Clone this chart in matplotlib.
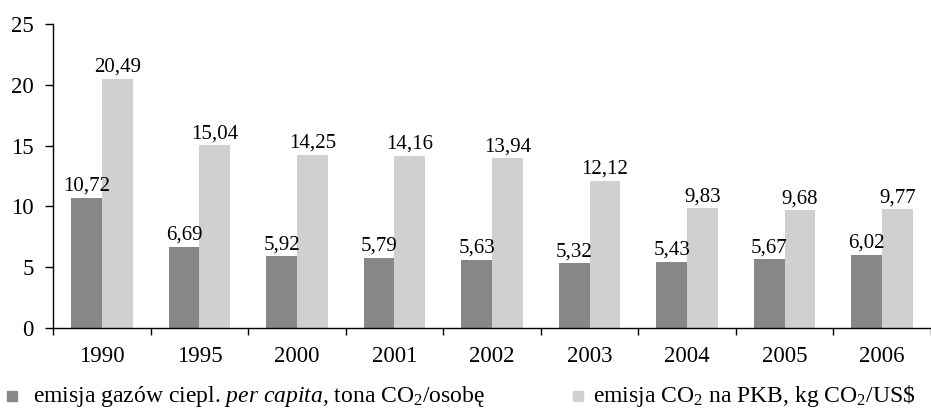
import numpy as np
import matplotlib.pyplot as plt
from matplotlib.lines import Line2D

plt.rcParams['font.family'] = ['Liberation Serif', 'DejaVu Serif']
plt.rcParams['mathtext.fontset'] = 'custom'
plt.rcParams['mathtext.rm'] = 'Liberation Serif'
plt.rcParams['mathtext.it'] = 'Liberation Serif:italic'

# data
years = ['1990', '1995', '2000', '2001', '2002', '2003', '2004', '2005', '2006']
per_capita = [10.72, 6.69, 5.92, 5.79, 5.63, 5.32, 5.43, 5.67, 6.02]
per_gdp = [20.49, 15.04, 14.25, 14.16, 13.94, 12.12, 9.83, 9.68, 9.77]

dark = '#878787'
light = '#d0d0d0'

fig = plt.figure(figsize=(9.31, 4.12), dpi=100)
ax = fig.add_axes([0.057, 1 - 328 / 412, 0.943, 304 / 412])

x = np.arange(len(years))
w = 0.315
b1 = ax.bar(x - w / 2, per_capita, w, color=dark)
b2 = ax.bar(x + w / 2, per_gdp, w, color=light)

for bars, vals in ((b1, per_capita), (b2, per_gdp)):
    for r, v in zip(bars, vals):
        ax.annotate(f'{v:.2f}'.replace('.', ','),
                    (r.get_x() + r.get_width() / 2, v),
                    xytext=(0, 5), textcoords='offset points',
                    ha='center', va='baseline', fontsize=15)

ax.set_xlim(-0.5, 8.42)
ax.set_ylim(0, 25)
ax.set_yticks([0, 5, 10, 15, 20, 25])
ax.set_xticks(x)
ax.set_xticklabels(years)
ax.set_xticks(np.arange(-0.5, 9, 1), minor=True)
ax.tick_params(axis='x', which='major', length=0, pad=13, labelsize=16.5)
ax.tick_params(axis='x', which='minor', length=5, width=1, direction='out')
ax.tick_params(axis='y', length=6, width=1, direction='out', labelsize=16.5, pad=8)

for s in ('top', 'right'):
    ax.spines[s].set_visible(False)
for s in ('left', 'bottom'):
    ax.spines[s].set_linewidth(1)

# legend drawn by hand along the bottom edge
labels = [r'emisja gazów ciepl. $\it{per\ capita}$, tona CO$_2$/osobę',
          r'emisja CO$_2$ na PKB, kg CO$_2$/US\$']
legend_pos = [(12, 33), (578, 593)]
base_y = 1 - 402 / 412
for (mx, tx), lab, col in zip(legend_pos, labels, (dark, light)):
    fig.add_artist(Line2D([mx / 931], [base_y + 6 / 412], transform=fig.transFigure,
                          marker='s', ls='', color=col, markersize=7))
    fig.text(tx / 931, base_y, lab, fontsize=17, ha='left', va='baseline')

fig.savefig('out.png', dpi=100)
